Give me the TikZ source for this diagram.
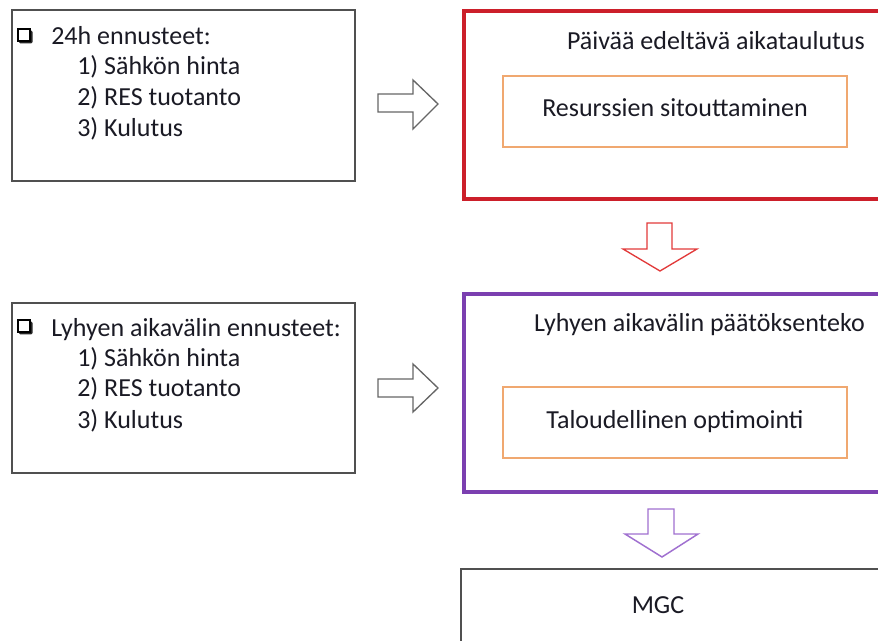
\documentclass[tikz,border=0pt]{standalone}
\usepackage{fontspec}
\setmainfont{Carlito}
\definecolor{frameGrey}{HTML}{505050}
\definecolor{planRed}{HTML}{CC1F2A}
\definecolor{deciPurple}{HTML}{7B3FB0}
\definecolor{taskOrange}{HTML}{F0A870}
\definecolor{arrowRed}{HTML}{E23A3A}
\definecolor{arrowPurple}{HTML}{A070D0}
\definecolor{ink}{HTML}{1A1A24}
\begin{document}
\begin{tikzpicture}[x=0.75pt,y=-0.75pt,
  txt/.style={font=\fontsize{19.5}{23}\selectfont, text=ink, inner sep=0pt},
  framebox/.style={draw=frameGrey, line width=1.5pt},
  planbox/.style={draw=planRed, line width=2.3pt},
  decibox/.style={draw=deciPurple, line width=2.3pt},
  taskbox/.style={draw=taskOrange, line width=1.4pt},
  greyarrow/.style={draw=black!60, line width=1pt, fill=white, line join=miter},
  redarrow/.style={draw=arrowRed, line width=1pt, fill=white},
  purplearrow/.style={draw=arrowPurple, line width=1.1pt, fill=white},
]
\useasboundingbox (0,0) rectangle (878,641);

% forecast input boxes
\draw[framebox] (12,10) rectangle (355,181);
\draw[framebox] (12,303) rectangle (355,473);

% shadowed check boxes
\foreach \yy in {29,320} {
  \fill[black!85, rounded corners=1pt] (19,\yy+1.5) rectangle (32.5,\yy+14.5);
  \draw[black, line width=1.3pt, fill=white] (18,\yy) rectangle (30,\yy+12);
}

% forecast lists
\node[txt, anchor=base west] (f1) at (51,45) {24h ennusteet:};
\node[txt, anchor=base west] (f1a) at (77,75) {1) Sähkön hinta};
\node[txt, anchor=base west] (f1b) at (77,106) {2) RES tuotanto};
\node[txt, anchor=base west] (f1c) at (77,137) {3) Kulutus};

\node[txt, anchor=base west] (f2) at (51,337) {Lyhyen aikavälin ennusteet:};
\node[txt, anchor=base west] (f2a) at (77,367) {1) Sähkön hinta};
\node[txt, anchor=base west] (f2b) at (77,397) {2) RES tuotanto};
\node[txt, anchor=base west] (f2c) at (77,428) {3) Kulutus};

% planning stages
\draw[planbox] (464,11) rectangle (905,199);
\draw[decibox] (464,294) rectangle (905,492);
\draw[draw=frameGrey, line width=1.6pt] (461,569) rectangle (905,680);

\node[txt, anchor=base east] (p1) at (865,50) {Päivää edeltävä aikataulutus};
\draw[taskbox] (503,76) rectangle (847,147);
\node[txt, anchor=base] (t1) at (675,117) {Resurssien sitouttaminen};

\node[txt, anchor=base east] (p2) at (865,332) {Lyhyen aikavälin päätöksenteko};
\draw[taskbox] (503,387) rectangle (847,458);
\node[txt, anchor=base] (t2) at (675,428) {Taloudellinen optimointi};

\node[txt, anchor=base] (mgc) at (658,613) {MGC};

% block arrows between stages
\draw[greyarrow] (378,94) -- (413,94) -- (413,80) -- (438,104) -- (413,129) -- (413,112) -- (378,112) -- cycle;
\draw[greyarrow] (378,379) -- (413,379) -- (413,364) -- (438,388) -- (413,412) -- (413,397) -- (378,397) -- cycle;
\draw[redarrow] (647,223) -- (672,223) -- (672,249) -- (697,249) -- (660,271) -- (623,249) -- (647,249) -- cycle;
\draw[purplearrow] (648,509) -- (674,509) -- (674,534) -- (698,534) -- (662,557) -- (625,534) -- (648,534) -- cycle;
\end{tikzpicture}
\end{document}
